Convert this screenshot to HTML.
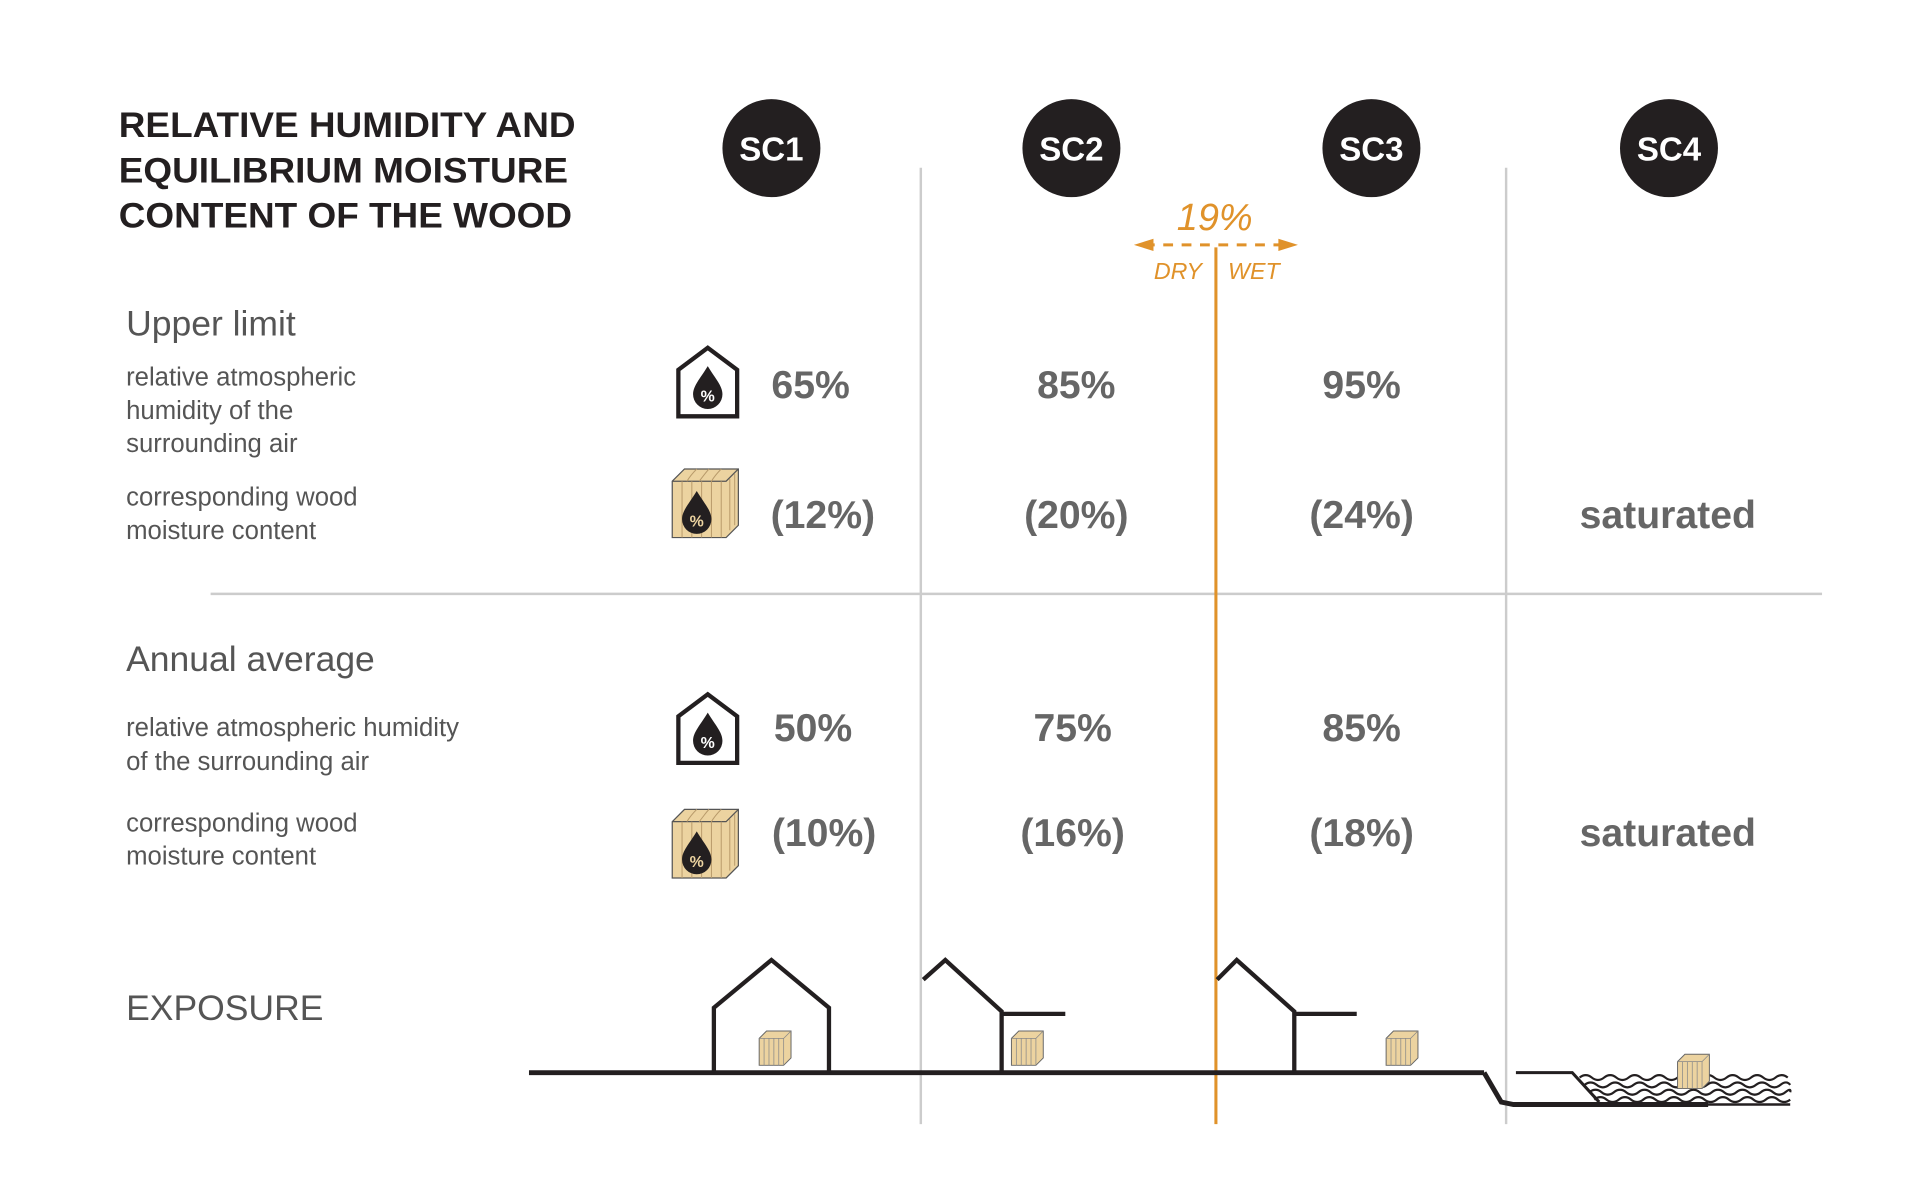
<!DOCTYPE html>
<html><head><meta charset="utf-8"><style>
html,body{margin:0;padding:0;background:#fff;width:1920px;height:1200px;overflow:hidden}
svg{display:block}
.t{font-family:"Liberation Sans",sans-serif}
</style></head><body>
<svg width="1920" height="1200" viewBox="0 0 1568 980" xmlns="http://www.w3.org/2000/svg">
<defs>
<g id="crate">
<polygon points="0,10 10,0 54,0 54,46 44,56 0,56" fill="#ecd3a0" stroke="#555" stroke-width="1"/>
<polyline points="0,10 44,10 54,0 M44,10 44,56" fill="none" stroke="#555" stroke-width="1"/>
<path d="M8,10V56M16,10V56M24,10V56M32,10V56M40,10V56M47,8V50M51,4V46M12,10C15,5 18,2 20,0M22,10C26,5 28,2 30,0M32,10C35,5 38,2 40,0" stroke="#b89a6a" stroke-width="0.8" fill="none"/>
<path d="M20,18 C14,28 8,34 8,41 a12,12 0 0 0 24,0 C32,34 26,28 20,18Z" fill="#231f20"/>
<text x="20" y="47" font-size="13" fill="#ecd3a0" text-anchor="middle" class="t" font-weight="bold">%</text>
</g>
<g id="house">
<polygon points="2,18 26,0 50,18 50,56 2,56" fill="none" stroke="#231f20" stroke-width="3.5"/>
<path d="M26,15 C20,25 14,31 14,38 a12,12 0 0 0 24,0 C38,31 32,25 26,15Z" fill="#231f20"/>
<text x="26" y="44" font-size="13" fill="#fff" text-anchor="middle" class="t" font-weight="bold">%</text>
</g>
<g id="sm">
<polygon points="0,6 6,0 26,0 26,22 20,28 0,28" fill="#ecd3a0" stroke="#666" stroke-width="0.8"/>
<path d="M0,6H20L26,0M20,6V28M4,6V28M8,6V28M12,6V28M16,6V28" stroke="#888" stroke-width="0.6" fill="none"/>
</g>
</defs>

<line x1="752" y1="137" x2="752" y2="918" stroke="#ccc" stroke-width="2"/>
<line x1="1230" y1="137" x2="1230" y2="918" stroke="#ccc" stroke-width="2"/>
<line x1="172" y1="485" x2="1488" y2="485" stroke="#ccc" stroke-width="2"/>
<line x1="993" y1="202" x2="993" y2="918" stroke="#e0922a" stroke-width="2.5"/>

<g class="t" font-weight="bold" font-size="29" fill="#231f20" transform="translate(97,0) scale(1.04,1) translate(-97,0)">
<text x="97" y="112">RELATIVE HUMIDITY AND</text>
<text x="97" y="149">EQUILIBRIUM MOISTURE</text>
<text x="97" y="186">CONTENT OF THE WOOD</text>
</g>

<g class="t" font-weight="bold" font-size="27" fill="#fff" text-anchor="middle">
<circle cx="630" cy="121" r="40" fill="#231f20"/><text x="630" y="131">SC1</text>
<circle cx="875" cy="121" r="40" fill="#231f20"/><text x="875" y="131">SC2</text>
<circle cx="1120" cy="121" r="40" fill="#231f20"/><text x="1120" y="131">SC3</text>
<circle cx="1363" cy="121" r="40" fill="#231f20"/><text x="1363" y="131">SC4</text>
</g>

<g class="t" fill="#e0922a" font-style="italic">
<text x="992" y="188" font-size="31" text-anchor="middle">19%</text>
<text x="962" y="228" font-size="19" text-anchor="middle">DRY</text>
<text x="1024" y="228" font-size="19" text-anchor="middle">WET</text>
</g>
<line x1="935" y1="200" x2="1050" y2="200" stroke="#e0922a" stroke-width="2.5" stroke-dasharray="8,7"/>
<polygon points="926,200 942,195 942,205" fill="#e0922a"/>
<polygon points="1060,200 1044,195 1044,205" fill="#e0922a"/>

<g class="t" fill="#555">
<text x="103" y="274" font-size="29">Upper limit</text>
<text x="103" y="315" font-size="21">relative atmospheric</text>
<text x="103" y="342" font-size="21">humidity of the</text>
<text x="103" y="369" font-size="21">surrounding air</text>
<text x="103" y="413" font-size="21">corresponding wood</text>
<text x="103" y="440" font-size="21">moisture content</text>
<text x="103" y="548" font-size="29">Annual average</text>
<text x="103" y="601" font-size="21">relative atmospheric humidity</text>
<text x="103" y="629" font-size="21">of the surrounding air</text>
<text x="103" y="679" font-size="21">corresponding wood</text>
<text x="103" y="706" font-size="21">moisture content</text>
<text x="103" y="833" font-size="29">EXPOSURE</text>
</g>

<g class="t" fill="#666" font-weight="bold" font-size="32" text-anchor="middle">
<text x="662" y="325">65%</text><text x="879" y="325">85%</text><text x="1112" y="325">95%</text>
<text x="672" y="431">(12%)</text><text x="879" y="431">(20%)</text><text x="1112" y="431">(24%)</text><text x="1362" y="431">saturated</text>
<text x="664" y="605">50%</text><text x="876" y="605">75%</text><text x="1112" y="605">85%</text>
<text x="673" y="691">(10%)</text><text x="876" y="691">(16%)</text><text x="1112" y="691">(18%)</text><text x="1362" y="691">saturated</text>
</g>

<use href="#house" x="552" y="284"/>
<use href="#crate" x="549" y="383"/>
<use href="#house" x="552" y="567"/>
<use href="#crate" x="549" y="661"/>

<g fill="none" stroke="#231f20" stroke-width="3.5">
<line x1="432" y1="876" x2="1212" y2="876" stroke-width="4"/>
<polyline points="583,876 583,823 630,784 677,823 677,876"/>
<polyline points="754,800 772,784 818,826 818,876"/>
<line x1="818" y1="828" x2="870" y2="828"/>
<polyline points="994,800 1010,784 1057,826 1057,876"/>
<line x1="1057" y1="828" x2="1108" y2="828"/>
<polyline points="1212,876 1226,900 1236,902 1395,902" stroke-width="4"/>
<polyline points="1238,876 1284,876 1306,900" stroke-width="2.5"/>
<line x1="1300" y1="902" x2="1462" y2="902" stroke-width="2"/>
</g>
<g fill="none" stroke="#231f20" stroke-width="1.8">
<path d="M1290,880 q5,-4 10,0 t10,0 t10,0 t10,0 t10,0 t10,0 t10,0 t10,0 t10,0 t10,0 t10,0 t10,0 t10,0 t10,0 t10,0 t10,0 t10,0"/>
<path d="M1294,886 q5,-4 10,0 t10,0 t10,0 t10,0 t10,0 t10,0 t10,0 t10,0 t10,0 t10,0 t10,0 t10,0 t10,0 t10,0 t10,0 t10,0 t8,0"/>
<path d="M1298,892 q5,-4 10,0 t10,0 t10,0 t10,0 t10,0 t10,0 t10,0 t10,0 t10,0 t10,0 t10,0 t10,0 t10,0 t10,0 t10,0 t10,0 t4,0"/>
<path d="M1302,898 q5,-4 10,0 t10,0 t10,0 t10,0 t10,0 t10,0 t10,0 t10,0 t10,0 t10,0 t10,0 t10,0 t10,0 t10,0 t10,0 t10,0"/>
</g>
<use href="#sm" x="620" y="842"/>
<use href="#sm" x="826" y="842"/>
<use href="#sm" x="1132" y="842"/>
<use href="#sm" x="1370" y="861"/>
</svg>
</body></html>
